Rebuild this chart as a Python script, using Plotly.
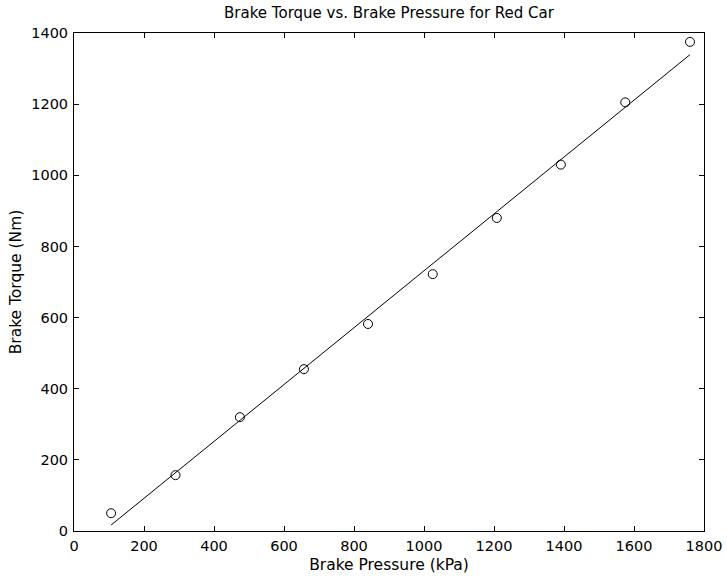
import numpy as np
import plotly.graph_objects as go

pressure_kpa = [106, 290, 474, 657, 840, 1025, 1208, 1391, 1575, 1760]
torque_nm = [50, 157, 320, 455, 582, 722, 880, 1030, 1205, 1375]
x_ticks = [0, 200, 400, 600, 800, 1000, 1200, 1400, 1600, 1800]
y_ticks = [0, 200, 400, 600, 800, 1000, 1200, 1400]

coef = np.polyfit(pressure_kpa, torque_nm, 1)
fit_x = [pressure_kpa[0], pressure_kpa[-1]]
fit_y = list(np.polyval(coef, fit_x))

W, H = 727, 579
ML, MR, MT, MB = 74, 23, 33, 48
FAM = "DejaVu Sans, Liberation Sans, Arial, sans-serif"
tick_font = dict(family=FAM, size=14.5, color="black")
label_font = dict(family=FAM, size=15.5, color="black")
title_font = dict(family=FAM, size=15, color="black")

fig = go.Figure()
fig.add_trace(go.Scatter(x=pressure_kpa, y=torque_nm, mode="markers",
                         marker=dict(symbol="circle-open", size=9, color="black", line=dict(width=1)),
                         showlegend=False, hoverinfo="skip"))
fig.add_trace(go.Scatter(x=fit_x, y=fit_y, mode="lines",
                         line=dict(color="black", width=1), showlegend=False, hoverinfo="skip"))

axis_common = dict(showgrid=False, zeroline=False, showline=True, linecolor="black", linewidth=1,
                   mirror="ticks", ticks="inside", ticklen=5, tickcolor="black", tickwidth=1,
                   tickfont=tick_font, ticklabelstandoff=2, automargin=False,
                   ticklabeloverflow="allow")
fig.update_layout(
    width=W, height=H,
    margin=dict(l=ML, r=MR, t=MT, b=MB),
    paper_bgcolor="white", plot_bgcolor="white",
    font=tick_font,
    title=dict(text="Brake Torque vs. Brake Pressure for Red Car", x=(ML + W - MR) / 2 / W, xanchor="center",
               y=1 - 12.5 / H, yanchor="middle", font=title_font),
    xaxis=dict(range=[0, 1800], tickvals=x_ticks, ticktext=[str(v) for v in x_ticks],
               title=dict(text="Brake Pressure (kPa)", font=label_font, standoff=5), **axis_common),
    yaxis=dict(range=[0, 1400], tickvals=y_ticks, ticktext=[str(v) for v in y_ticks],
               title=dict(text="Brake Torque (Nm)", font=label_font, standoff=5), **axis_common),
)
fig.write_html("out.html", config={"displayModeBar": False},
               post_script="document.body.style.margin='0';document.body.style.overflow='hidden';")
